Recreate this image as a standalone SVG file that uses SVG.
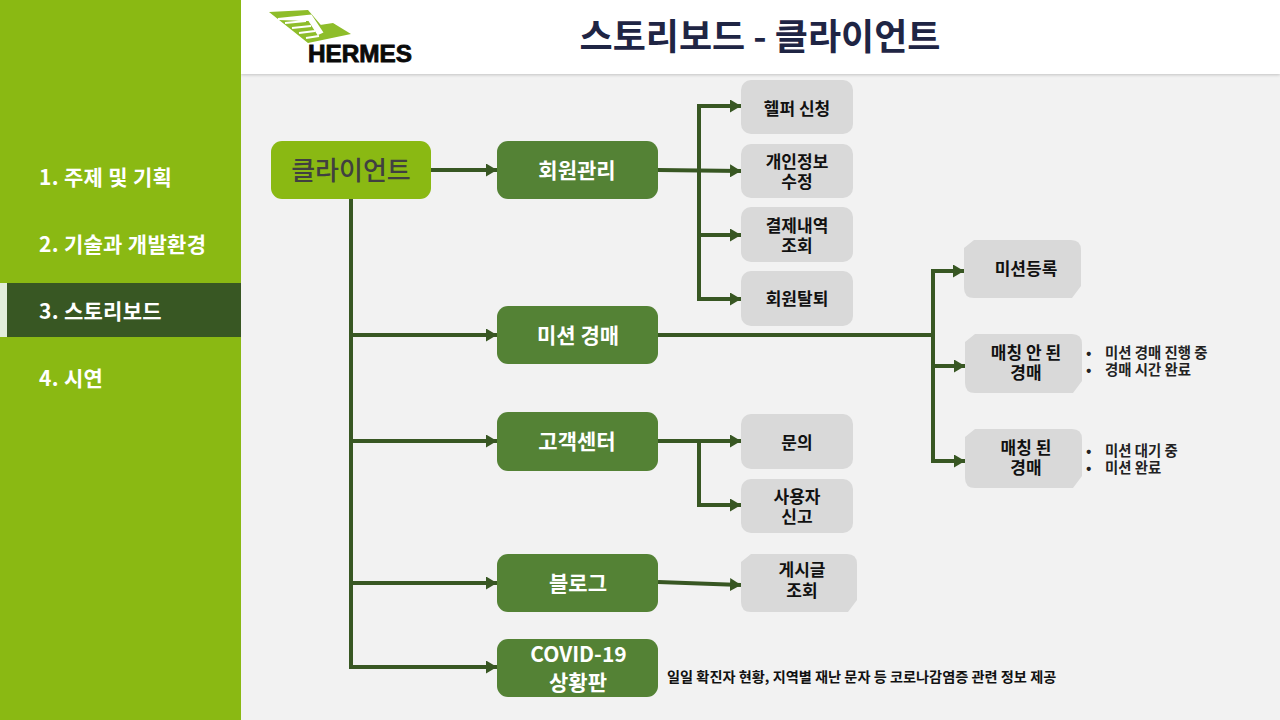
<svg xmlns="http://www.w3.org/2000/svg" width="1280" height="720" viewBox="0 0 1280 720">
<defs>
<marker id="ah" markerUnits="userSpaceOnUse" markerWidth="12" markerHeight="13" refX="11" refY="6.5" orient="auto"><path d="M0 0L11 6.5L0 13Z" fill="#385723"/></marker>
<filter id="sh" x="-2%" y="-10%" width="104%" height="130%"><feDropShadow dx="0" dy="1" stdDeviation="1.5" flood-color="#000" flood-opacity="0.2"/></filter>
</defs>
<style>
text{font-family:"Noto Sans CJK KR","Noto Sans",sans-serif;text-anchor:middle}
.g{fill:#548235}.gt{fill:#fff;font-size:21px;font-weight:700}
.s{fill:#d9d9d9}.st{fill:#111;font-size:17px;font-weight:700}
.m{fill:#fff;font-size:21px;font-weight:700;text-anchor:start;letter-spacing:.3px}
.n{fill:#222;font-size:14.4px;font-weight:700;text-anchor:start}
.c{fill:none;stroke:#385723;stroke-width:4}
.a{marker-end:url(#ah)}
</style>
<rect width="1280" height="720" fill="#f2f2f2"/>
<rect x="241" width="1039" height="74" fill="#fff" filter="url(#sh)"/>
<rect width="241" height="720" fill="#8ab913"/>
<g id="menu">
<rect y="283" width="241" height="54" fill="#385723"/>
<rect x="0" y="283" width="7" height="54" fill="#e2eedb"/>
<text class="m" x="39" y="185">1. 주제 및 기획</text>
<text class="m" x="39" y="252">2. 기술과 개발환경</text>
<text class="m" x="39" y="319">3. 스토리보드</text>
<text class="m" x="39" y="386">4. 시연</text>
</g>
<g id="logo">
<path d="M269 12L308 10L326 31L320 25L333 23L351 34L308 43Z" fill="#8ebd2a"/>
<path d="M278 19L311 15.500L322 32L318 34L309 20ZM285 23L306 21M292 28L311 26M299 33L315 31M306 38L319 36" fill="#fff" stroke="#fff" stroke-width="2"/>
<text x="308" y="62" style="font-family:'Liberation Sans',sans-serif;font-weight:700;font-size:23px;text-anchor:start" fill="#0a0a0a" stroke="#0a0a0a" stroke-width=".8" textLength="104" lengthAdjust="spacingAndGlyphs">HERMES</text>
</g>
<text x="760" y="50" fill="#1f2544" style="font-size:36px;font-weight:700">스토리보드 - 클라이언트</text>
<g id="connectors">
<path class="c a" d="M431 170H497"/>
<path class="c" d="M351 199V667"/>
<path class="c a" d="M351 335H497"/>
<path class="c a" d="M351 441H497"/>
<path class="c a" d="M351 583H497"/>
<path class="c a" d="M349 667H497"/>
<path class="c a" d="M658 170L741 171"/>
<path class="c a" d="M699 171V106H741"/>
<path class="c a" d="M699 171V299H741"/>
<path class="c a" d="M699 235H741"/>
<path class="c" d="M658 335H933"/>
<path class="c a" d="M933 335V271H964"/>
<path class="c a" d="M933 335V461H965"/>
<path class="c a" d="M933 366H965"/>
<path class="c a" d="M658 441H741"/>
<path class="c a" d="M699 441V505H741"/>
<path class="c a" d="M658 582L741 585"/>
</g>
<g id="client"><rect x="271" y="141" width="160" height="58" rx="11" fill="#8ab913"/><text x="351" y="180" fill="#404040" style="font-size:26px;font-weight:500">클라이언트</text></g>
<g id="member"><rect class="g" x="497" y="141" width="161" height="58" rx="11"/><text class="gt" x="577" y="178">회원관리</text></g>
<g id="auction"><rect class="g" x="497" y="306" width="161" height="58" rx="11"/><text class="gt" x="578" y="343">미션 경매</text></g>
<g id="support"><rect class="g" x="497" y="412" width="161" height="59" rx="11"/><text class="gt" x="577" y="449">고객센터</text></g>
<g id="blog"><rect class="g" x="497" y="554" width="161" height="58" rx="11"/><text class="gt" x="578" y="591">블로그</text></g>
<g id="covid"><rect class="g" x="497" y="639" width="161" height="58" rx="11"/><text class="gt" x="578.500" y="662">COVID-19<tspan x="578" dy="28">상황판</tspan></text></g>
<g id="helper"><rect class="s" x="741" y="80" width="112" height="54" rx="10"/><text class="st" x="797" y="115">헬퍼 신청</text></g>
<g id="profile"><rect class="s" x="741" y="144" width="112" height="54" rx="10"/><text class="st" x="797" y="168">개인정보<tspan x="797" dy="20">수정</tspan></text></g>
<g id="payment"><rect class="s" x="741" y="207" width="112" height="55" rx="10"/><text class="st" x="797" y="232">결제내역<tspan x="797" dy="20">조회</tspan></text></g>
<g id="withdraw"><rect class="s" x="741" y="271" width="112" height="55" rx="10"/><text class="st" x="797" y="305">회원탈퇴</text></g>
<g id="mission-reg"><path class="s" d="M974 240H1071Q1081 240 1081 250V286L1072 298H974Q964 298 964 288V248Z"/><text class="st" x="1026" y="275">미션등록</text></g>
<g id="unmatched"><path class="s" d="M975 334H1072Q1082 334 1082 344V381L1073 393H975Q965 393 965 383V342Z"/><text class="st" x="1026" y="359">매칭 안 된<tspan x="1026" dy="20">경매</tspan></text></g>
<g id="matched"><path class="s" d="M975 429H1072Q1082 429 1082 439V476L1073 488H975Q965 488 965 478V437Z"/><text class="st" x="1026" y="454">매칭 된<tspan x="1026" dy="20">경매</tspan></text></g>
<g id="inquiry"><rect class="s" x="741" y="414" width="112" height="55" rx="10"/><text class="st" x="797" y="449">문의</text></g>
<g id="report"><rect class="s" x="741" y="479" width="112" height="54" rx="10"/><text class="st" x="797" y="503">사용자<tspan x="797" dy="20">신고</tspan></text></g>
<g id="post"><path class="s" d="M751 554H847Q857 554 857 564V600L848 612H751Q741 612 741 602V562Z"/><text class="st" x="802" y="576">게시글<tspan x="802" dy="21">조회</tspan></text></g>
<g id="notes">
<text class="n" x="1086" y="358">•<tspan x="1105">미션 경매 진행 중</tspan><tspan x="1086" dy="17">•</tspan><tspan x="1105">경매 시간 완료</tspan></text>
<text class="n" x="1086" y="456">•<tspan x="1105">미션 대기 중</tspan><tspan x="1086" dy="17">•</tspan><tspan x="1105">미션 완료</tspan></text>
<text class="n" x="667" y="682" style="font-size:14.200px;fill:#111">일일 확진자 현황, 지역별 재난 문자 등 코로나감염증 관련 정보 제공</text>
</g>
</svg>
